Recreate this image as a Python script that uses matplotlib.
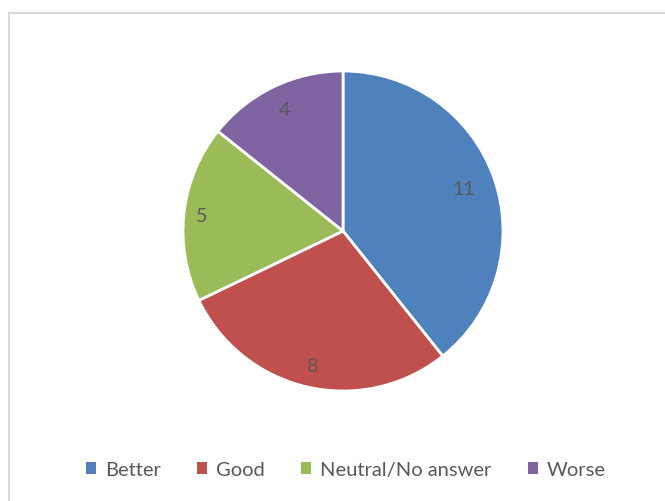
import matplotlib.pyplot as plt
from matplotlib.patches import Patch
from matplotlib.lines import Line2D

plt.rcParams['font.family'] = ['Lato', 'DejaVu Sans']

# data
categories = ['Better', 'Good', 'Neutral/No answer', 'Worse']
counts = [11, 8, 5, 4]
colors = ['#4F81BD', '#C0504D', '#9BBB59', '#8064A2']
text_color = '#595959'
# radial position of each value label (fraction of radius)
label_dist = [0.80, 0.86, 0.89, 0.84]

fig = plt.figure(figsize=(6.65, 5.02), dpi=100)

# light chart-area border (only top/left visible)
fig.add_artist(Line2D([9/665, 9/665], [0, 1 - 14/502], color='#D9D9D9', lw=1.5))
fig.add_artist(Line2D([9/665, 1], [1 - 14/502, 1 - 14/502], color='#D9D9D9', lw=1.5))

ax = fig.add_axes([0.2752, 0.2191, 0.4812, 0.6375])
wedges, texts = ax.pie(counts, colors=colors, startangle=90, counterclock=False,
                       labels=[str(c) for c in counts], labeldistance=0.84,
                       wedgeprops=dict(edgecolor='white', linewidth=2),
                       textprops=dict(color=text_color, fontsize=14))
for w, t, d in zip(wedges, texts, label_dist):
    import numpy as np
    ang = np.deg2rad((w.theta1 + w.theta2) / 2)
    t.set_position((d * np.cos(ang), d * np.sin(ang)))
    t.set_ha('center')
    t.set_va('center')
ax.set_xlim(-1.0, 1.0)
ax.set_ylim(-1.0, 1.0)
ax.set_aspect('equal')

handles = [Patch(facecolor=c, edgecolor='none') for c in colors]
fig.legend(handles, categories, loc='center', bbox_to_anchor=(0.52, 0.062), ncol=4,
           frameon=False, fontsize=14.5, labelcolor=text_color,
           handlelength=0.5, handleheight=0.5, handletextpad=0.45, columnspacing=1.8)

fig.savefig('out.png', dpi=100)
